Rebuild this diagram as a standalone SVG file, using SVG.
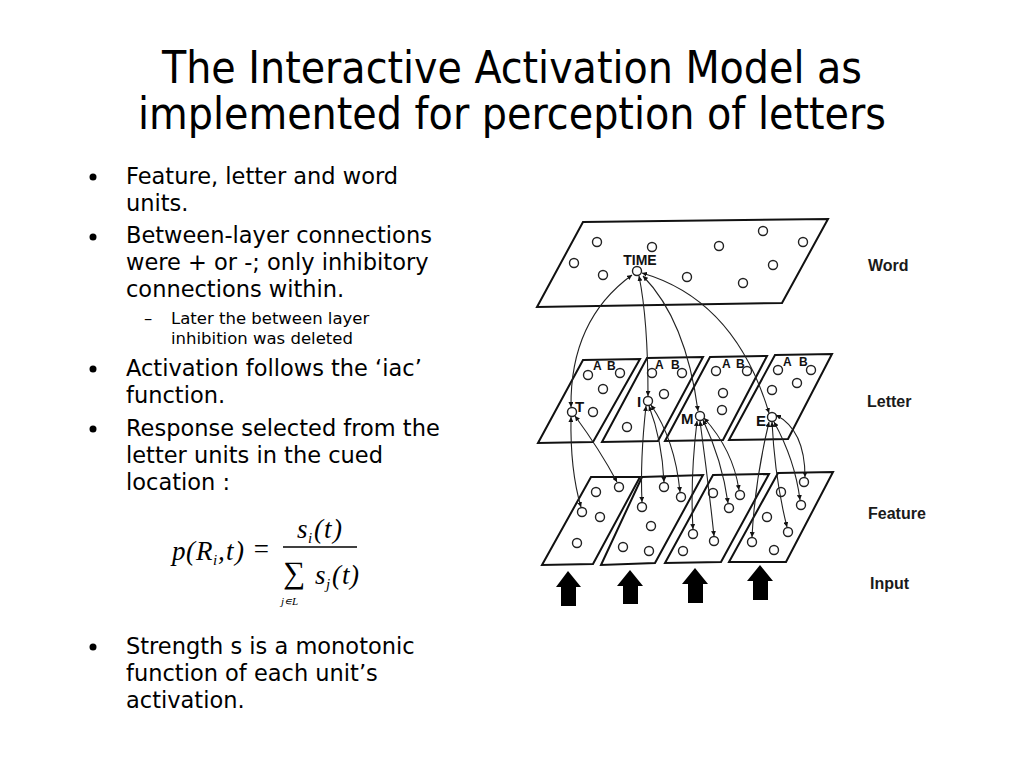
<svg xmlns="http://www.w3.org/2000/svg" width="1024" height="768" viewBox="0 0 1024 768">
<defs>
<marker id="ah" viewBox="0 0 10 10" refX="10" refY="5" markerWidth="5" markerHeight="5" orient="auto-start-reverse" markerUnits="userSpaceOnUse">
<path d="M0,0 L10,5 L0,10 z" fill="#111"/>
</marker>
<style>
.title{font-family:"DejaVu Sans Condensed","DejaVu Sans",sans-serif;font-size:44px;fill:#000}
.body{font-family:"DejaVu Sans",Verdana,sans-serif;font-size:22.5px;fill:#000}
.sub{font-family:"DejaVu Sans",Verdana,sans-serif;font-size:16.5px;fill:#000}
.math{font-family:"Liberation Serif",serif;font-style:italic;fill:#000}
.plane{fill:#fff;stroke:#111;stroke-width:2;stroke-linejoin:miter}
.u{fill:#fff;stroke:#222;stroke-width:1.4}
.ulab{font-family:"Liberation Sans",Arial,sans-serif;font-weight:bold;font-size:15px;fill:#111}
.tl{font-family:"Liberation Sans",Arial,sans-serif;font-weight:bold;font-size:14px;fill:#111}
.ab{font-family:"Liberation Sans",Arial,sans-serif;font-weight:bold;font-size:12px;fill:#111}
.lab{font-family:"Liberation Sans",Arial,sans-serif;font-weight:bold;font-size:16px;fill:#1a1a1a}
.c{fill:none;stroke:#222;stroke-width:1.1;marker-start:url(#ah);marker-end:url(#ah)}
.inp{fill:#000}
</style>
</defs>
<rect width="1024" height="768" fill="#fff"/>

<g id="title">
<text class="title" x="512" y="83" text-anchor="middle" textLength="700" lengthAdjust="spacingAndGlyphs">The Interactive Activation Model as</text>
<text class="title" x="512" y="129" text-anchor="middle" textLength="748" lengthAdjust="spacingAndGlyphs">implemented for perception of letters</text>
</g>

<g id="bullets">
<circle cx="93" cy="177" r="3.5" fill="#000"/>
<text class="body" x="126" y="184">Feature, letter and word</text>
<text class="body" x="126" y="211">units.</text>
<circle cx="93" cy="237" r="3.5" fill="#000"/>
<text class="body" x="126" y="243">Between-layer connections</text>
<text class="body" x="126" y="270">were + or -; only inhibitory</text>
<text class="body" x="126" y="297">connections within.</text>
<text class="sub" x="144" y="324">–</text>
<text class="sub" x="171" y="324">Later the between layer</text>
<text class="sub" x="171" y="344">inhibition was deleted</text>
<circle cx="93" cy="369" r="3.5" fill="#000"/>
<text class="body" x="126" y="376">Activation follows the ‘iac’</text>
<text class="body" x="126" y="403">function.</text>
<circle cx="93" cy="429" r="3.5" fill="#000"/>
<text class="body" x="126" y="436">Response selected from the</text>
<text class="body" x="126" y="463">letter units in the cued</text>
<text class="body" x="126" y="490">location :</text>
<circle cx="93" cy="647" r="3.5" fill="#000"/>
<text class="body" x="126" y="654">Strength s is a monotonic</text>
<text class="body" x="126" y="681">function of each unit’s</text>
<text class="body" x="126" y="708">activation.</text>
</g>

<g id="formula">
<text class="math" x="172" y="560" font-size="27">p</text>
<text class="math" x="186" y="560" font-size="27" font-style="normal">(</text>
<text class="math" x="196" y="560" font-size="27">R</text>
<text class="math" x="213" y="565" font-size="15">i</text>
<text class="math" x="218" y="560" font-size="27" font-style="normal">,</text>
<text class="math" x="226" y="560" font-size="27">t</text>
<text class="math" x="235" y="560" font-size="27" font-style="normal">)</text>
<text class="math" x="252" y="558" font-size="27" font-style="normal">=</text>
<text class="math" x="297" y="538" font-size="27">s</text>
<text class="math" x="308" y="543" font-size="15">i</text>
<text class="math" x="314" y="538" font-size="27" font-style="normal">(</text>
<text class="math" x="324" y="538" font-size="27">t</text>
<text class="math" x="333" y="538" font-size="27" font-style="normal">)</text>
<line x1="283" y1="547" x2="357" y2="547" stroke="#000" stroke-width="1.5"/>
<text class="math" x="283" y="583" font-size="31" font-style="normal">∑</text>
<text class="math" x="315" y="584" font-size="27">s</text>
<text class="math" x="326" y="589" font-size="15">j</text>
<text class="math" x="332" y="584" font-size="27" font-style="normal">(</text>
<text class="math" x="342" y="584" font-size="27">t</text>
<text class="math" x="350" y="584" font-size="27" font-style="normal">)</text>
<text class="math" x="281" y="605" font-size="11">j∊L</text>
</g>

<g id="word-layer">
<polygon class="plane" points="583,222 828,219 782,303 537,307"/>
<circle class="u" cx="597" cy="242" r="4.5"/>
<circle class="u" cx="652" cy="247" r="4.5"/>
<circle class="u" cx="719" cy="246" r="4.5"/>
<circle class="u" cx="763" cy="231" r="4.5"/>
<circle class="u" cx="803" cy="242" r="4.5"/>
<circle class="u" cx="574" cy="263" r="4.5"/>
<circle class="u" cx="603" cy="275" r="4.5"/>
<circle class="u" cx="687" cy="277" r="4.5"/>
<circle class="u" cx="773" cy="265" r="4.5"/>
<circle class="u" cx="743" cy="283" r="4.5"/>
<circle class="u" cx="637" cy="271" r="4.5"/>
<text class="tl" x="640" y="265" text-anchor="middle">TIME</text>
</g>

<g id="letter-layer">
<g id="letter1">
<polygon class="plane" points="583,360 640,359 593,442 538,443"/>
<text class="ab" x="593" y="370">A</text><text class="ab" x="607" y="370">B</text>
<circle class="u" cx="588" cy="375" r="4.5"/>
<circle class="u" cx="620" cy="373" r="4.5"/>
<circle class="u" cx="603" cy="389" r="4.5"/>
<circle class="u" cx="593" cy="412" r="4.5"/>
<circle class="u" cx="572" cy="412" r="4.5"/>
<text class="ulab" x="575" y="412">T</text>
</g>
<g id="letter2">
<polygon class="plane" points="647,358 703,357 658,441 602,442"/>
<text class="ab" x="655" y="369">A</text><text class="ab" x="671" y="369">B</text>
<circle class="u" cx="652" cy="373" r="4.5"/>
<circle class="u" cx="682" cy="373" r="4.5"/>
<circle class="u" cx="664" cy="394" r="4.5"/>
<circle class="u" cx="627" cy="427" r="4.5"/>
<circle class="u" cx="648" cy="401" r="4.5"/>
<text class="ulab" x="637" y="407">I</text>
</g>
<g id="letter3">
<polygon class="plane" points="710,357 767,356 723,440 665,441"/>
<text class="ab" x="722" y="368">A</text><text class="ab" x="736" y="368">B</text>
<circle class="u" cx="716" cy="371" r="4.5"/>
<circle class="u" cx="747" cy="371" r="4.5"/>
<circle class="u" cx="723" cy="393" r="4.5"/>
<circle class="u" cx="722" cy="410" r="4.5"/>
<circle class="u" cx="700" cy="416" r="4.5"/>
<text class="ulab" x="681" y="424">M</text>
</g>
<g id="letter4">
<polygon class="plane" points="775,355 832,354 788,439 729,440"/>
<text class="ab" x="783" y="366">A</text><text class="ab" x="799" y="366">B</text>
<circle class="u" cx="778" cy="370" r="4.5"/>
<circle class="u" cx="811" cy="370" r="4.5"/>
<circle class="u" cx="797" cy="383" r="4.5"/>
<circle class="u" cx="772" cy="390" r="4.5"/>
<circle class="u" cx="772" cy="417" r="4.5"/>
<text class="ulab" x="756" y="426">E</text>
</g>
</g>

<g id="feature-layer">
<g id="feature1">
<polygon class="plane" points="591,477 640,477 593,564 542,565"/>
<circle class="u" cx="619" cy="487" r="4.5"/>
<circle class="u" cx="596" cy="492" r="4.5"/>
<circle class="u" cx="582" cy="512" r="4.5"/>
<circle class="u" cx="600" cy="517" r="4.5"/>
<circle class="u" cx="577" cy="543" r="4.5"/>
</g>
<g id="feature2">
<polygon class="plane" points="642,477 703,475 655,563 601,565"/>
<circle class="u" cx="664" cy="487" r="4.5"/>
<circle class="u" cx="681" cy="497" r="4.5"/>
<circle class="u" cx="642" cy="507" r="4.5"/>
<circle class="u" cx="651" cy="526" r="4.5"/>
<circle class="u" cx="623" cy="547" r="4.5"/>
<circle class="u" cx="649" cy="551" r="4.5"/>
</g>
<g id="feature3">
<polygon class="plane" points="713,475 769,474 721,562 665,563"/>
<circle class="u" cx="713" cy="493" r="4.5"/>
<circle class="u" cx="740" cy="495" r="4.5"/>
<circle class="u" cx="729" cy="508" r="4.5"/>
<circle class="u" cx="693" cy="534" r="4.5"/>
<circle class="u" cx="714" cy="541" r="4.5"/>
<circle class="u" cx="683" cy="551" r="4.5"/>
</g>
<g id="feature4">
<polygon class="plane" points="778,473 833,472 786,562 729,562"/>
<circle class="u" cx="804" cy="482" r="4.5"/>
<circle class="u" cx="781" cy="492" r="4.5"/>
<circle class="u" cx="801" cy="505" r="4.5"/>
<circle class="u" cx="767" cy="517" r="4.5"/>
<circle class="u" cx="788" cy="532" r="4.5"/>
<circle class="u" cx="752" cy="542" r="4.5"/>
<circle class="u" cx="774" cy="550" r="4.5"/>
</g>
</g>

<g id="connectors">
<path class="c" d="M571,407 Q570,320 632,275"/>
<path class="c" d="M648,396 Q648,320 639,276"/>
<path class="c" d="M698,411 Q686,320 643,276"/>
<path class="c" d="M769,413 Q735,300 642,273"/>
<path class="c" d="M571,417 Q570,470 581,507"/>
<path class="c" d="M575,416 Q600,450 617,482"/>
<path class="c" d="M646,406 Q640,460 642,502"/>
<path class="c" d="M649,406 Q662,440 664,482"/>
<path class="c" d="M651,405 Q675,440 680,492"/>
<path class="c" d="M697,421 Q690,480 693,529"/>
<path class="c" d="M700,421 Q708,480 714,536"/>
<path class="c" d="M703,420 Q722,460 728,503"/>
<path class="c" d="M704,418 Q733,450 739,490"/>
<path class="c" d="M769,422 Q755,480 752,537"/>
<path class="c" d="M772,422 Q775,480 787,527"/>
<path class="c" d="M774,422 Q795,460 800,500"/>
<path class="c" d="M776,415 Q805,430 805,477"/>
</g>

<g id="input">
<path class="inp" d="M568,571 L581,587 L576,587 L576,606 L561,606 L561,587 L556,587 z"/>
<path class="inp" d="M630,570 L643,586 L638,586 L638,604 L623,604 L623,586 L617,586 z"/>
<path class="inp" d="M695,568 L708,584 L703,584 L703,603 L688,603 L688,584 L682,584 z"/>
<path class="inp" d="M760,565 L773,581 L768,581 L768,600 L753,600 L753,581 L747,581 z"/>
</g>

<g id="labels">
<text class="lab" x="868" y="271">Word</text>
<text class="lab" x="867" y="407">Letter</text>
<text class="lab" x="868" y="519">Feature</text>
<text class="lab" x="870" y="589">Input</text>
</g>
</svg>
